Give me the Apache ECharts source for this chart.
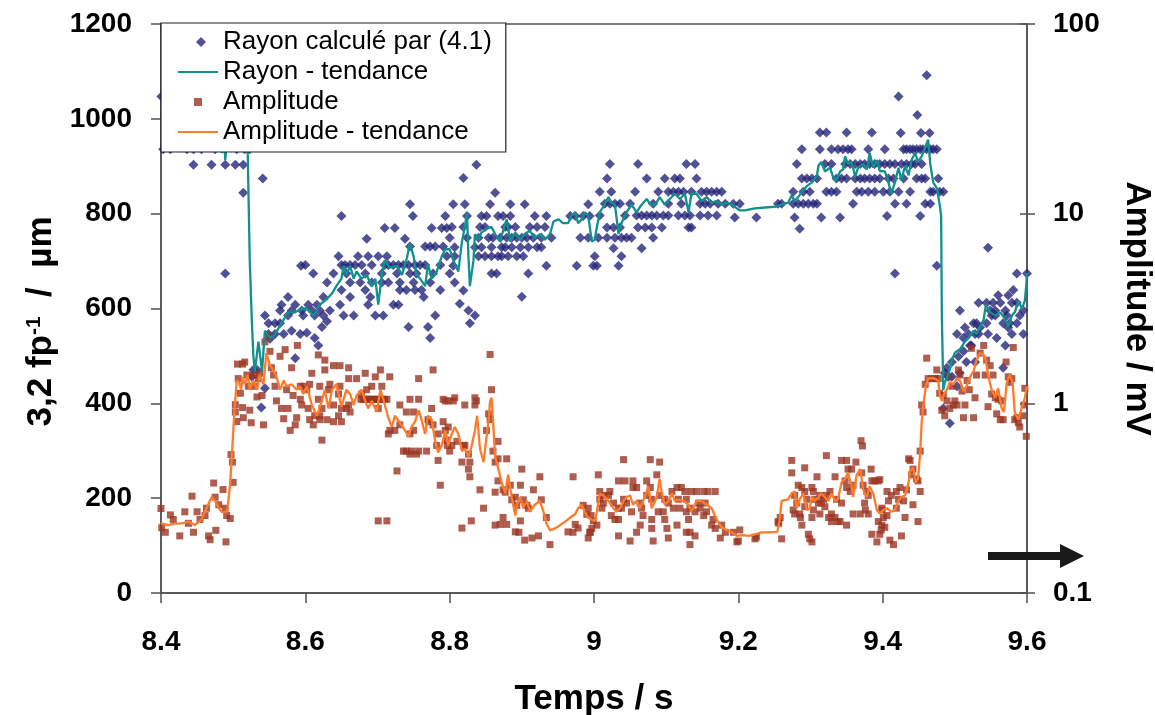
<!DOCTYPE html>
<html><head><meta charset="utf-8">
<script src="https://cdn.jsdelivr.net/npm/echarts/dist/echarts.min.js"></script>
<style>html,body{margin:0;padding:0;background:#fff}#c{width:1155px;height:715px}</style>
</head><body><div id="c"></div>
<script>
// ---- axes ----
const xRange = [8.4, 9.6], xStep = 0.2;
const radiusRange = [0, 1200], radiusStep = 200;
const ampRange = [0.1, 100];
const FONT = 'Liberation Sans';

// ---- Rayon calculé par (4.1) : [temps s, rayon µm] ----
const rayonA = [[8.4005,1047],[8.403,936],[8.413,936],[8.420,970],[8.436,936],[8.445,936],[8.445,903],[8.456,936],[8.460,970],[8.470,903],[8.475,936],[8.489,903],[8.489,674],[8.495,970],[8.503,903],[8.505,936],[8.514,903],[8.514,844],[8.516,936],[8.523,936],[8.526,456],[8.528,471],[8.533,471],[8.539,391],[8.541,874],[8.544,585],[8.544,432],[8.549,569],[8.549,546],[8.551,536],[8.558,569],[8.558,546],[8.565,596],[8.565,569],[8.567,608],[8.570,546],[8.576,624],[8.576,585],[8.581,596],[8.581,553],[8.586,608],[8.586,495],[8.593,546],[8.594,690],[8.595,596]];
const rayonB = [[8.745,820],[8.650,795],[8.749,795],[8.794,795],[8.710,770],[8.724,770],[8.775,770],[8.789,770],[8.796,770],[8.685,747],[8.738,747],[8.745,731],[8.766,731],[8.773,731],[8.780,731],[8.791,731],[8.646,710],[8.673,710],[8.687,710],[8.701,710],[8.713,710],[8.796,710],[8.600,692],[8.650,692],[8.655,692],[8.662,692],[8.669,692],[8.678,692],[8.692,692],[8.710,692],[8.715,692],[8.722,692],[8.729,692],[8.736,692],[8.743,692],[8.752,692],[8.759,692],[8.766,692],[8.787,692],[8.611,674],[8.639,674],[8.657,674],[8.683,674],[8.706,674],[8.727,674],[8.745,674],[8.754,674],[8.777,674],[8.630,655],[8.662,655],[8.676,655],[8.692,655],[8.706,655],[8.715,655],[8.731,655],[8.750,655],[8.773,655],[8.650,639],[8.683,639],[8.731,639],[8.740,639],[8.752,639],[8.761,639],[8.787,639],[8.625,624],[8.662,624],[8.690,624],[8.764,624],[8.604,608],[8.616,608],[8.648,608],[8.687,608],[8.722,608],[8.729,608],[8.609,596],[8.620,596],[8.634,596],[8.597,585],[8.613,585],[8.625,585],[8.653,585],[8.667,585],[8.697,585],[8.708,585],[8.780,585],[8.630,573],[8.623,561],[8.743,561],[8.770,561],[8.602,549],[8.613,538],[8.773,538],[8.618,522]];
const rayonC = [[8.837,903],[8.819,875],[8.863,844],[8.805,820],[8.821,820],[8.856,820],[8.884,820],[8.904,820],[8.992,820],[8.824,795],[8.844,795],[8.851,795],[8.867,795],[8.874,795],[8.884,795],[8.918,795],[8.934,795],[8.967,795],[8.974,795],[8.985,795],[8.994,795],[8.803,772],[8.819,772],[8.842,772],[8.849,772],[8.877,772],[8.881,772],[8.891,772],[8.911,772],[8.921,772],[8.932,772],[8.800,749],[8.824,749],[8.840,749],[8.854,749],[8.860,749],[8.870,749],[8.879,749],[8.886,749],[8.893,749],[8.900,749],[8.907,749],[8.916,749],[8.927,749],[8.941,749],[8.981,749],[8.992,749],[8.807,729],[8.835,729],[8.844,729],[8.858,729],[8.872,729],[8.877,729],[8.886,729],[8.898,729],[8.909,729],[8.921,729],[8.927,729],[8.807,710],[8.840,710],[8.849,710],[8.858,710],[8.867,710],[8.872,710],[8.881,710],[8.893,710],[8.902,710],[8.805,690],[8.934,690],[8.976,690],[8.999,690],[8.800,674],[8.858,674],[8.865,674],[8.909,674],[8.807,655],[8.819,638],[8.900,625],[8.814,610],[8.826,596],[8.835,585],[8.828,569]];
const rayonD = [[9.022,905],[9.061,905],[9.128,905],[9.140,905],[9.018,874],[9.073,874],[9.098,874],[9.112,874],[9.119,874],[9.142,874],[9.008,846],[9.024,846],[9.057,846],[9.089,846],[9.103,846],[9.110,846],[9.117,846],[9.124,846],[9.135,846],[9.149,846],[9.156,846],[9.163,846],[9.170,846],[9.177,846],[9.015,821],[9.022,821],[9.029,821],[9.036,821],[9.050,821],[9.082,821],[9.103,821],[9.121,821],[9.147,821],[9.154,821],[9.161,821],[9.172,821],[9.182,821],[9.193,821],[9.008,796],[9.043,796],[9.059,796],[9.066,796],[9.073,796],[9.080,796],[9.087,796],[9.096,796],[9.103,796],[9.117,796],[9.126,796],[9.133,796],[9.147,796],[9.158,796],[9.170,796],[9.018,771],[9.027,771],[9.036,771],[9.061,771],[9.071,771],[9.080,771],[9.094,771],[9.131,771],[9.135,771],[9.006,749],[9.018,749],[9.029,749],[9.038,749],[9.045,749],[9.052,749],[9.082,749],[9.027,727],[9.066,727],[9.001,710],[9.038,710],[9.004,690],[9.034,690]];
const rayonE = [[9.313,971],[9.322,971],[9.350,971],[9.385,971],[9.288,936],[9.313,936],[9.329,936],[9.338,936],[9.345,936],[9.352,936],[9.357,936],[9.380,936],[9.281,905],[9.320,905],[9.329,905],[9.348,905],[9.355,905],[9.362,905],[9.369,905],[9.375,905],[9.382,905],[9.389,905],[9.288,874],[9.295,874],[9.302,874],[9.309,874],[9.336,874],[9.343,874],[9.350,874],[9.362,874],[9.369,874],[9.375,874],[9.382,874],[9.389,874],[9.276,846],[9.290,846],[9.299,846],[9.322,846],[9.329,846],[9.336,846],[9.364,846],[9.371,846],[9.380,846],[9.389,846],[9.202,821],[9.255,821],[9.260,821],[9.276,821],[9.283,821],[9.290,821],[9.297,821],[9.304,821],[9.309,821],[9.359,821],[9.195,792],[9.225,792],[9.278,792],[9.315,792],[9.341,792],[9.285,768]];
const rayonF = [[9.461,1092],[9.422,1047],[9.448,1008],[9.425,970],[9.453,970],[9.465,970],[9.403,936],[9.429,936],[9.433,936],[9.438,936],[9.442,936],[9.447,936],[9.452,936],[9.456,936],[9.461,936],[9.466,936],[9.470,936],[9.475,936],[9.396,905],[9.403,905],[9.410,905],[9.417,905],[9.426,905],[9.433,905],[9.440,905],[9.445,905],[9.454,905],[9.396,874],[9.408,874],[9.415,874],[9.429,874],[9.447,874],[9.454,874],[9.459,874],[9.477,874],[9.401,846],[9.410,846],[9.422,846],[9.438,846],[9.466,846],[9.470,846],[9.479,846],[9.484,846],[9.417,821],[9.433,821],[9.459,821],[9.466,821],[9.406,795],[9.452,795],[9.475,690],[9.417,674],[9.546,728],[9.586,674],[9.600,674],[9.581,639],[9.560,628],[9.574,628],[9.533,612],[9.544,612],[9.553,612],[9.563,612],[9.579,612],[9.586,612],[9.507,596],[9.549,596],[9.556,596],[9.570,596],[9.595,596],[9.551,585],[9.556,585],[9.572,585],[9.590,585],[9.526,569],[9.530,569],[9.544,569],[9.567,569],[9.576,569],[9.586,569],[9.514,560],[9.535,560],[9.574,560],[9.503,546],[9.519,546],[9.528,546],[9.533,546],[9.546,546],[9.579,546],[9.595,546],[9.512,538],[9.558,538],[9.521,522],[9.523,522],[9.570,522],[9.512,510],[9.505,499],[9.496,487],[9.516,487],[9.528,487],[9.489,475],[9.567,475],[9.486,464],[9.507,464],[9.491,456],[9.496,456],[9.503,436],[9.484,389],[9.493,358]];

// ---- Rayon - tendance ----
const rayonTrend = [[8.400,945],[8.430,945],[8.460,945],[8.484,945],[8.4845,928],[8.488,945],[8.489,913],[8.491,945],[8.519,945],[8.520,940],[8.523,700],[8.526,569],[8.528,500],[8.530,467],[8.535,530],[8.540,467],[8.544,553],[8.551,538],[8.558,546],[8.567,569],[8.576,592],[8.586,592],[8.595,600],[8.602,600],[8.611,585],[8.620,608],[8.630,620],[8.637,632],[8.643,647],[8.650,663],[8.653,690],[8.657,671],[8.662,690],[8.667,663],[8.671,678],[8.678,663],[8.685,671],[8.692,647],[8.697,663],[8.701,608],[8.706,671],[8.710,702],[8.717,686],[8.727,690],[8.734,671],[8.740,702],[8.745,737],[8.750,710],[8.754,671],[8.759,663],[8.766,647],[8.770,694],[8.775,663],[8.782,678],[8.789,710],[8.794,725],[8.800,725],[8.805,702],[8.812,678],[8.817,741],[8.821,772],[8.824,803],[8.826,710],[8.828,647],[8.833,702],[8.835,757],[8.840,745],[8.844,760],[8.851,768],[8.858,772],[8.863,757],[8.870,741],[8.874,764],[8.879,788],[8.884,741],[8.891,760],[8.898,745],[8.904,757],[8.911,764],[8.918,749],[8.925,757],[8.932,745],[8.939,757],[8.944,784],[8.951,788],[8.957,780],[8.964,780],[8.969,796],[8.974,803],[8.978,780],[8.983,788],[8.987,803],[8.992,796],[8.997,741],[9.001,745],[9.004,772],[9.008,803],[9.013,815],[9.020,835],[9.024,823],[9.029,819],[9.034,757],[9.038,780],[9.045,803],[9.052,819],[9.059,803],[9.066,819],[9.073,831],[9.078,819],[9.085,819],[9.091,835],[9.098,819],[9.105,831],[9.112,842],[9.119,831],[9.126,842],[9.131,803],[9.135,842],[9.142,842],[9.149,827],[9.156,835],[9.163,823],[9.170,827],[9.177,819],[9.184,823],[9.191,819],[9.198,811],[9.202,807],[9.209,807],[9.223,811],[9.237,813],[9.253,815],[9.262,821],[9.269,823],[9.274,839],[9.278,827],[9.283,835],[9.288,846],[9.295,858],[9.302,866],[9.309,881],[9.311,901],[9.315,909],[9.320,889],[9.327,897],[9.332,874],[9.336,870],[9.341,889],[9.345,893],[9.348,921],[9.352,905],[9.357,909],[9.362,878],[9.366,897],[9.373,905],[9.378,893],[9.382,928],[9.387,897],[9.392,913],[9.396,890],[9.403,889],[9.408,866],[9.412,842],[9.417,866],[9.422,897],[9.426,870],[9.431,901],[9.436,881],[9.440,913],[9.445,928],[9.449,909],[9.454,921],[9.459,940],[9.463,956],[9.466,905],[9.470,866],[9.475,854],[9.479,819],[9.481,796],[9.482,585],[9.484,428],[9.486,444],[9.491,460],[9.496,491],[9.500,507],[9.507,514],[9.514,530],[9.519,538],[9.526,553],[9.530,546],[9.535,561],[9.540,577],[9.543,608],[9.549,592],[9.556,585],[9.563,592],[9.570,577],[9.574,561],[9.579,585],[9.583,592],[9.588,616],[9.593,600],[9.597,616],[9.599,650],[9.600,675]];

// ---- Amplitude : [temps s, amplitude mV] ----
const ampA = [[8.400,0.279],[8.401,0.221],[8.406,0.209],[8.413,0.258],[8.417,0.244],[8.426,0.200],[8.433,0.268],[8.438,0.233],[8.443,0.324],[8.445,0.209],[8.450,0.268],[8.454,0.244],[8.461,0.256],[8.463,0.280],[8.466,0.200],[8.468,0.191],[8.473,0.380],[8.475,0.320],[8.476,0.214],[8.480,0.292],[8.486,0.351],[8.489,0.280],[8.490,0.186],[8.491,0.256],[8.496,0.247],[8.497,0.537],[8.499,0.490],[8.500,0.383],[8.503,0.983],[8.503,0.900],[8.505,0.802],[8.506,1.61],[8.507,1.35],[8.510,1.13],[8.513,1.61],[8.513,0.95],[8.514,0.84],[8.516,1.65],[8.519,1.41],[8.521,1.23],[8.523,0.92],[8.525,0.79],[8.528,1.41],[8.530,1.23],[8.533,1.08],[8.535,1.35],[8.537,1.44],[8.540,1.10],[8.542,0.77],[8.544,2.11],[8.549,2.27],[8.551,1.88],[8.553,1.54],[8.556,1.41],[8.558,1.23],[8.560,1.03],[8.565,1.77],[8.567,0.94],[8.570,0.83],[8.572,1.92],[8.574,1.18],[8.576,0.94],[8.579,0.72],[8.581,1.54],[8.583,1.10],[8.586,0.77],[8.588,0.84],[8.589,2.02],[8.593,1.23],[8.595,0.98]];
const ampB = [[8.618,1.80],[8.627,1.69],[8.639,1.58],[8.648,1.58],[8.660,1.54],[8.627,1.50],[8.704,1.50],[8.777,1.50],[8.609,1.44],[8.683,1.44],[8.697,1.38],[8.717,1.38],[8.660,1.35],[8.671,1.35],[8.757,1.35],[8.606,1.26],[8.634,1.26],[8.597,1.23],[8.620,1.23],[8.648,1.23],[8.692,1.23],[8.706,1.23],[8.602,1.18],[8.632,1.18],[8.685,1.18],[8.646,1.12],[8.678,1.12],[8.593,1.05],[8.618,1.05],[8.677,1.05],[8.680,1.05],[8.683,1.05],[8.686,1.05],[8.689,1.05],[8.692,1.05],[8.695,1.05],[8.698,1.05],[8.701,1.05],[8.704,1.05],[8.707,1.05],[8.710,1.05],[8.713,1.05],[8.745,1.05],[8.757,1.05],[8.791,1.05],[8.639,0.98],[8.660,0.98],[8.731,0.98],[8.604,0.94],[8.623,0.94],[8.650,0.94],[8.657,0.94],[8.701,0.94],[8.775,0.94],[8.662,0.90],[8.740,0.90],[8.750,0.90],[8.613,0.86],[8.620,0.86],[8.646,0.86],[8.606,0.82],[8.620,0.82],[8.630,0.82],[8.770,0.82],[8.639,0.80],[8.650,0.80],[8.771,0.80],[8.791,0.80],[8.611,0.77],[8.731,0.77],[8.777,0.77],[8.717,0.72],[8.724,0.72],[8.750,0.72],[8.715,0.69],[8.745,0.69],[8.784,0.69],[8.623,0.64],[8.796,0.64],[8.782,0.60],[8.797,0.60],[8.736,0.56],[8.740,0.56],[8.747,0.56],[8.757,0.56],[8.768,0.56],[8.745,0.54],[8.754,0.54],[8.784,0.50],[8.727,0.44],[8.787,0.37],[8.701,0.24],[8.713,0.24]];
const ampC = [[8.856,1.81],[8.858,1.18],[8.807,1.07],[8.835,1.07],[8.794,1.03],[8.798,1.03],[8.805,1.03],[8.837,1.03],[8.821,0.98],[8.835,0.98],[8.854,0.88],[8.856,0.82],[8.798,0.75],[8.794,0.72],[8.851,0.72],[8.810,0.63],[8.867,0.63],[8.803,0.60],[8.819,0.60],[8.821,0.60],[8.800,0.56],[8.860,0.56],[8.826,0.54],[8.867,0.51],[8.879,0.51],[8.817,0.49],[8.828,0.49],[8.863,0.49],[8.826,0.45],[8.900,0.45],[8.828,0.41],[8.925,0.41],[8.971,0.41],[8.867,0.39],[8.884,0.37],[8.898,0.37],[8.842,0.35],[8.874,0.35],[8.916,0.35],[8.863,0.34],[8.877,0.34],[8.891,0.32],[8.886,0.31],[8.902,0.31],[8.927,0.31],[8.893,0.29],[8.907,0.29],[8.985,0.29],[8.847,0.28],[8.909,0.28],[8.992,0.28],[8.990,0.26],[8.874,0.25],[8.934,0.25],[8.830,0.24],[8.898,0.24],[8.999,0.24],[8.870,0.23],[8.879,0.23],[8.974,0.23],[8.863,0.228],[8.817,0.22],[8.978,0.22],[8.891,0.21],[8.964,0.21],[8.896,0.209],[8.971,0.209],[8.994,0.209],[8.923,0.20],[8.914,0.195],[8.992,0.195],[8.904,0.19],[8.939,0.18]];
const ampD = [[9.041,0.505],[9.078,0.505],[9.091,0.49],[9.006,0.42],[9.087,0.42],[9.034,0.39],[9.043,0.39],[9.054,0.39],[9.073,0.39],[9.054,0.36],[9.059,0.36],[9.078,0.36],[9.115,0.36],[9.121,0.36],[9.008,0.343],[9.022,0.343],[9.108,0.343],[9.126,0.343],[9.135,0.343],[9.142,0.343],[9.152,0.343],[9.158,0.343],[9.168,0.343],[9.013,0.327],[9.020,0.327],[9.073,0.327],[9.091,0.327],[9.008,0.312],[9.041,0.312],[9.080,0.312],[9.098,0.312],[9.117,0.312],[9.128,0.312],[9.013,0.298],[9.027,0.298],[9.045,0.298],[9.064,0.298],[9.103,0.298],[9.145,0.298],[9.154,0.298],[9.011,0.28],[9.034,0.28],[9.038,0.28],[9.066,0.28],[9.110,0.28],[9.119,0.28],[9.133,0.28],[9.147,0.28],[9.052,0.268],[9.089,0.268],[9.096,0.268],[9.128,0.268],[9.140,0.268],[9.156,0.268],[8.996,0.256],[9.024,0.256],[9.068,0.256],[9.152,0.256],[9.029,0.244],[9.034,0.244],[9.080,0.244],[9.098,0.244],[9.131,0.244],[9.165,0.244],[9.004,0.228],[9.064,0.228],[9.115,0.228],[9.163,0.228],[9.177,0.228],[8.997,0.219],[9.080,0.219],[9.101,0.219],[9.168,0.219],[8.995,0.209],[9.059,0.209],[9.128,0.209],[9.133,0.209],[9.182,0.209],[9.193,0.209],[9.034,0.20],[9.140,0.20],[9.103,0.195],[9.175,0.195],[9.050,0.188],[9.082,0.188],[9.200,0.188],[9.133,0.18]];
const ampE = [[9.370,0.635],[9.372,0.596],[9.322,0.53],[9.274,0.50],[9.343,0.50],[9.350,0.50],[9.363,0.49],[9.292,0.457],[9.352,0.45],[9.357,0.45],[9.384,0.45],[9.274,0.43],[9.371,0.43],[9.309,0.41],[9.334,0.41],[9.348,0.39],[9.385,0.39],[9.389,0.39],[9.394,0.39],[9.283,0.37],[9.359,0.37],[9.373,0.37],[9.288,0.36],[9.302,0.36],[9.350,0.36],[9.292,0.343],[9.304,0.343],[9.327,0.343],[9.355,0.343],[9.378,0.343],[9.278,0.327],[9.313,0.327],[9.322,0.327],[9.380,0.327],[9.295,0.312],[9.306,0.312],[9.318,0.312],[9.336,0.312],[9.281,0.298],[9.311,0.298],[9.315,0.298],[9.343,0.298],[9.375,0.298],[9.292,0.285],[9.320,0.285],[9.276,0.274],[9.304,0.274],[9.376,0.274],[9.399,0.274],[9.278,0.261],[9.285,0.261],[9.313,0.261],[9.329,0.261],[9.359,0.261],[9.369,0.261],[9.380,0.261],[9.258,0.25],[9.286,0.25],[9.302,0.25],[9.325,0.25],[9.334,0.25],[9.255,0.238],[9.329,0.238],[9.338,0.238],[9.341,0.238],[9.394,0.238],[9.256,0.233],[9.288,0.228],[9.350,0.228],[9.399,0.228],[9.202,0.215],[9.398,0.215],[9.297,0.204],[9.385,0.204],[9.225,0.197],[9.223,0.193],[9.260,0.193],[9.299,0.193],[9.198,0.186],[9.302,0.186],[9.392,0.186]];
const ampF = [[9.396,0.396],[9.406,0.343],[9.408,0.306],[9.412,0.327],[9.419,0.343],[9.422,0.312],[9.424,0.36],[9.429,0.306],[9.433,0.35],[9.436,0.51],[9.438,0.50],[9.440,0.42],[9.442,0.45],[9.447,0.40],[9.449,0.39],[9.452,0.343],[9.452,0.56],[9.399,0.28],[9.401,0.25],[9.403,0.222],[9.406,0.256],[9.410,0.19],[9.415,0.18],[9.419,0.28],[9.426,0.20],[9.431,0.25],[9.442,0.292],[9.449,0.238],[9.396,0.204],[9.454,0.98],[9.456,0.90],[9.459,1.26],[9.461,1.73],[9.463,1.35],[9.468,1.35],[9.473,1.35],[9.475,1.50],[9.477,1.35],[9.479,1.13],[9.482,0.92],[9.484,1.10],[9.486,0.86],[9.489,1.03],[9.491,1.38],[9.493,0.94],[9.496,1.23],[9.498,0.98],[9.500,1.03],[9.503,0.98],[9.505,1.50],[9.507,1.41],[9.510,1.16],[9.512,0.84],[9.514,0.98],[9.517,1.32],[9.520,1.18],[9.523,1.95],[9.526,0.84],[9.528,1.07],[9.530,1.41],[9.535,1.84],[9.540,2.02],[9.542,1.41],[9.544,1.69],[9.546,0.96],[9.549,1.58],[9.551,1.12],[9.553,1.41],[9.556,1.07],[9.558,0.88],[9.560,1.05],[9.563,0.82],[9.565,1.03],[9.567,0.82],[9.571,1.65],[9.574,1.38],[9.576,1.29],[9.579,1.35],[9.581,1.97],[9.583,0.82],[9.586,0.84],[9.588,0.79],[9.590,0.75],[9.594,0.86],[9.596,0.98],[9.597,1.20],[9.599,0.67]];

// ---- Amplitude - tendance ----
const ampTrend = [[8.400,0.233],[8.410,0.228],[8.419,0.232],[8.429,0.233],[8.438,0.238],[8.447,0.228],[8.456,0.244],[8.463,0.280],[8.470,0.320],[8.475,0.306],[8.480,0.280],[8.484,0.268],[8.489,0.266],[8.492,0.274],[8.496,0.383],[8.499,0.600],[8.502,0.94],[8.505,1.32],[8.508,1.29],[8.511,1.18],[8.513,1.38],[8.516,1.26],[8.520,1.41],[8.523,1.18],[8.528,1.32],[8.533,1.18],[8.537,1.41],[8.542,1.26],[8.546,1.84],[8.551,1.58],[8.556,1.50],[8.560,1.38],[8.565,1.18],[8.570,1.32],[8.574,1.23],[8.581,1.26],[8.588,1.18],[8.593,1.23],[8.597,1.12],[8.602,1.23],[8.609,0.98],[8.616,0.86],[8.623,1.03],[8.627,1.18],[8.632,0.94],[8.637,1.18],[8.643,1.26],[8.650,0.96],[8.657,1.18],[8.662,1.12],[8.667,0.98],[8.671,1.10],[8.678,1.18],[8.683,1.03],[8.687,0.94],[8.692,1.03],[8.699,0.90],[8.704,1.18],[8.708,1.05],[8.715,0.84],[8.720,0.75],[8.724,0.86],[8.731,0.79],[8.738,0.72],[8.743,0.67],[8.747,0.75],[8.752,0.80],[8.757,0.92],[8.761,0.82],[8.766,0.69],[8.770,0.86],[8.775,0.82],[8.780,0.63],[8.784,0.55],[8.789,0.60],[8.794,0.72],[8.798,0.60],[8.803,0.69],[8.807,0.75],[8.812,0.69],[8.817,0.56],[8.821,0.576],[8.826,0.525],[8.830,0.585],[8.835,0.72],[8.838,0.86],[8.842,0.576],[8.847,0.49],[8.851,0.66],[8.854,0.82],[8.856,1.03],[8.858,1.07],[8.860,0.82],[8.863,0.525],[8.867,0.457],[8.872,0.383],[8.877,0.335],[8.881,0.42],[8.886,0.32],[8.891,0.256],[8.893,0.292],[8.898,0.32],[8.902,0.28],[8.907,0.306],[8.911,0.268],[8.918,0.292],[8.925,0.306],[8.930,0.268],[8.934,0.233],[8.939,0.214],[8.946,0.219],[8.953,0.228],[8.960,0.238],[8.967,0.250],[8.974,0.261],[8.978,0.280],[8.983,0.292],[8.987,0.268],[8.992,0.250],[8.997,0.244],[9.001,0.240],[9.004,0.268],[9.008,0.335],[9.013,0.327],[9.020,0.306],[9.027,0.280],[9.031,0.268],[9.036,0.280],[9.041,0.306],[9.045,0.32],[9.050,0.327],[9.054,0.292],[9.059,0.306],[9.064,0.280],[9.068,0.306],[9.073,0.343],[9.075,0.365],[9.080,0.280],[9.087,0.32],[9.091,0.40],[9.094,0.335],[9.098,0.292],[9.103,0.306],[9.108,0.335],[9.112,0.306],[9.117,0.31],[9.124,0.306],[9.131,0.292],[9.135,0.268],[9.142,0.306],[9.149,0.306],[9.156,0.292],[9.163,0.280],[9.170,0.244],[9.177,0.222],[9.184,0.214],[9.191,0.209],[9.198,0.20],[9.205,0.202],[9.214,0.20],[9.223,0.204],[9.232,0.209],[9.242,0.209],[9.254,0.21],[9.257,0.238],[9.260,0.306],[9.269,0.312],[9.274,0.335],[9.278,0.343],[9.281,0.280],[9.285,0.312],[9.290,0.335],[9.295,0.274],[9.299,0.280],[9.302,0.32],[9.306,0.306],[9.311,0.32],[9.315,0.335],[9.320,0.32],[9.325,0.306],[9.329,0.335],[9.334,0.306],[9.338,0.312],[9.343,0.383],[9.348,0.40],[9.352,0.43],[9.357,0.365],[9.359,0.32],[9.364,0.42],[9.369,0.45],[9.373,0.35],[9.378,0.32],[9.382,0.365],[9.387,0.335],[9.392,0.274],[9.396,0.262],[9.401,0.274],[9.406,0.280],[9.412,0.268],[9.417,0.274],[9.422,0.306],[9.426,0.32],[9.431,0.327],[9.436,0.383],[9.438,0.44],[9.442,0.457],[9.446,0.383],[9.449,0.40],[9.452,0.55],[9.454,0.79],[9.456,0.96],[9.460,1.23],[9.463,1.35],[9.470,1.36],[9.477,1.32],[9.479,1.12],[9.482,1.03],[9.485,1.12],[9.489,1.18],[9.493,1.29],[9.498,1.26],[9.503,1.35],[9.507,1.32],[9.512,1.16],[9.516,1.23],[9.521,1.38],[9.526,1.48],[9.530,1.69],[9.535,1.84],[9.540,1.80],[9.543,1.69],[9.546,1.41],[9.551,1.18],[9.556,1.07],[9.560,1.20],[9.565,0.94],[9.568,0.90],[9.572,1.29],[9.576,1.41],[9.580,1.29],[9.583,0.90],[9.588,0.82],[9.590,0.84],[9.594,0.98],[9.597,1.07],[9.600,1.23]];

const rayonPoints = [].concat(rayonA, rayonB, rayonC, rayonD, rayonE, rayonF);
const ampPoints = [].concat(ampA, ampB, ampC, ampD, ampE, ampF);

const names = ['Rayon calculé par (4.1)', 'Rayon - tendance', 'Amplitude', 'Amplitude - tendance'];
const colors = { rayon: '#25267A', rayonTrend: '#11918D', amp: '#9B3422', ampTrend: '#FF7A2A' };
const axisColor = '#505050';

// legend icons drawn in a 40x10 box (invisible corner moves keep the box size)
const iconDiamond = 'path://M0,0M40,10M23,0L28,5L23,10L18,5Z';
const iconSquare = 'path://M0,0M40,10M16,1H24V9H16Z';
const iconLine = 'path://M0,0M40,10M0,3.9H40V6.1H0Z';

const chart = echarts.init(document.getElementById('c'), null, { renderer: 'canvas' });
const tickLabel = { fontFamily: FONT, fontSize: 28, fontWeight: 'bold', color: '#000' };
const titleStyle = { fontFamily: FONT, fontSize: 35, fontWeight: 'bold', color: '#000' };
const lineAx = { show: true, lineStyle: { color: axisColor, width: 1.5 } };

chart.setOption({
  animation: false,
  backgroundColor: '#fff',
  grid: { left: 161, right: 128, top: 24, bottom: 122, containLabel: false, outerBoundsMode: 'none',
          show: true, borderColor: axisColor, borderWidth: 1.5, backgroundColor: 'transparent' },
  legend: {
    orient: 'vertical', left: 161, top: 23,
    backgroundColor: '#fff', borderColor: '#222', borderWidth: 1.2,
    padding: [6, 14, 7, 17], itemGap: 4, itemWidth: 40, itemHeight: 10,
    textStyle: { fontFamily: FONT, fontSize: 26, color: '#000', lineHeight: 25 },
    data: [
      { name: names[0], icon: iconDiamond },
      { name: names[1], icon: iconLine },
      { name: names[2], icon: iconSquare },
      { name: names[3], icon: iconLine }
    ]
  },
  xAxis: {
    type: 'value', min: xRange[0], max: xRange[1], interval: xStep,
    name: 'Temps / s', nameLocation: 'middle', nameGap: 89, nameTextStyle: titleStyle,
    axisLine: lineAx,
    axisTick: { show: true, inside: false, length: 10, lineStyle: { color: axisColor, width: 1.5 } },
    axisLabel: Object.assign({ margin: 35 }, tickLabel),
    splitLine: { show: false }
  },
  yAxis: [
    {
      type: 'value', min: radiusRange[0], max: radiusRange[1], interval: radiusStep, position: 'left',
      name: '3,2 fp{sup|-1}  /  µm', nameLocation: 'middle', nameRotate: 90, nameGap: 97,
      nameTextStyle: Object.assign({}, titleStyle, { padding: [0, 26, 0, 0],
        rich: { sup: { fontFamily: FONT, fontSize: 21, fontWeight: 'bold', color: '#000', verticalAlign: 'top' } } }),
      axisLine: lineAx,
      axisTick: { show: true, inside: false, length: 10, lineStyle: { color: axisColor, width: 1.5 } },
      axisLabel: Object.assign({ margin: 29, formatter: v => String(v) }, tickLabel),
      splitLine: { show: false }
    },
    {
      type: 'log', logBase: 10, min: ampRange[0], max: ampRange[1], position: 'right',
      name: 'Amplitude / mV', nameLocation: 'middle', nameRotate: -90, nameGap: 92, nameTextStyle: titleStyle,
      axisLine: lineAx,
      axisTick: { show: true, inside: false, length: 8, lineStyle: { color: axisColor, width: 1.5 } },
      axisLabel: Object.assign({ margin: 26, formatter: v => String(v) }, tickLabel),
      splitLine: { show: false }, minorTick: { show: false }
    },
    {
      // inner half of the crossing ticks on the amplitude axis
      type: 'log', logBase: 10, min: ampRange[0], max: ampRange[1], position: 'right',
      axisLine: { show: false },
      axisTick: { show: true, inside: true, length: 7, lineStyle: { color: axisColor, width: 1.5 } },
      axisLabel: { show: false }, splitLine: { show: false }, minorTick: { show: false }
    }
  ],
  series: [
    { name: names[0], type: 'scatter', yAxisIndex: 0, symbol: 'diamond', symbolSize: 10, clip: false,
      itemStyle: { color: colors.rayon }, data: rayonPoints },
    { name: names[1], type: 'line', yAxisIndex: 0, symbol: 'none', showSymbol: false,
      lineStyle: { color: colors.rayonTrend, width: 2.3 }, itemStyle: { color: colors.rayonTrend }, data: rayonTrend },
    { name: names[2], type: 'scatter', yAxisIndex: 1, symbol: 'rect', symbolSize: 7, clip: false,
      itemStyle: { color: colors.amp }, data: ampPoints },
    { name: names[3], type: 'line', yAxisIndex: 1, symbol: 'none', showSymbol: false,
      lineStyle: { color: colors.ampTrend, width: 2.3 }, itemStyle: { color: colors.ampTrend }, data: ampTrend }
  ],
  graphic: [
    { type: 'rect', shape: { x: 988, y: 552, width: 74, height: 8 }, style: { fill: '#1a1a1a' }, z: 100 },
    { type: 'polygon', shape: { points: [[1060, 544], [1084, 556], [1060, 568]] }, style: { fill: '#1a1a1a' }, z: 100 }
  ]
});
</script>
</body></html>
